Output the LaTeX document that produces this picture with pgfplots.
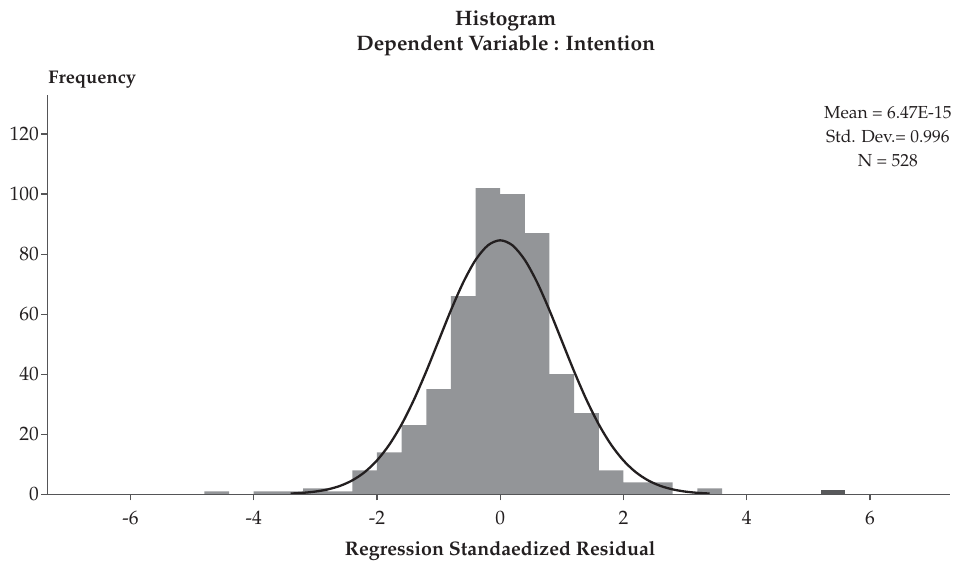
\documentclass[border=0pt]{standalone}
\usepackage[T1]{fontenc}
\usepackage{mathpazo}
\usepackage{pgfplots}
\pgfplotsset{compat=1.18}
\definecolor{barg}{RGB}{147,149,152}
\definecolor{bardk}{RGB}{88,89,91}
\definecolor{axg}{RGB}{85,85,87}
\definecolor{txt}{RGB}{35,31,32}
\newcommand{\fs}{\fontsize{17.5}{21}\selectfont}
\newcommand{\fst}{\fontsize{19.5}{23}\selectfont}
\begin{document}
\begin{tikzpicture}
\path[use as bounding box] (0,0) rectangle (959bp,562bp);
\begin{axis}[
  scale only axis, width=902.7bp, height=399.3bp,
  at={(47.3bp,67.7bp)}, anchor=south west,
  xmin=-7.35, xmax=7.3, ymin=0, ymax=133,
  axis x line*=bottom, axis y line*=left,
  axis line style={-, draw=axg, line width=1.3bp},
  xtick={-6,-4,-2,0,2,4,6}, ytick={0,20,40,60,80,100,120},
  tick align=outside, major tick length=6bp,
  tick style={draw=axg, line width=1.2bp},
  /pgf/number format/assume math mode=true,
  tick label style={font=\fst, text=txt},
  xticklabel style={yshift=-7bp},
  yticklabel style={xshift=1bp},
  clip=false, axis on top,
]
\addplot[ybar interval, fill=barg, draw=none] coordinates {
(-4.8,1) (-4.4,0) (-4.0,1) (-3.6,1) (-3.2,2) (-2.8,1) (-2.4,8) (-2.0,14)
(-1.6,23) (-1.2,35) (-0.8,66) (-0.4,102) (0.0,100) (0.4,87) (0.8,40)
(1.2,27) (1.6,8) (2.0,4) (2.4,4) (2.8,0) (3.2,2) (3.6,0)
};
\addplot[ybar interval, fill=bardk, draw=none] coordinates {
(5.2,1.3) (5.6,0)
};
\addplot[smooth, line width=2.3bp, color=txt] coordinates {
(-3.4,0.25) (-3.2,0.49) (-3.0,0.91) (-2.8,1.63) (-2.6,2.80) (-2.4,4.64)
(-2.2,7.37) (-2.0,11.27) (-1.8,16.52) (-1.6,23.28) (-1.4,31.50) (-1.2,40.94)
(-1.0,51.11) (-0.8,61.28) (-0.6,70.56) (-0.4,78.04) (-0.2,82.91) (0,84.6)
(0.2,82.91) (0.4,78.04) (0.6,70.56) (0.8,61.28) (1.0,51.11) (1.2,40.94)
(1.4,31.50) (1.6,23.28) (1.8,16.52) (2.0,11.27) (2.2,7.37) (2.4,4.64)
(2.6,2.80) (2.8,1.63) (3.0,0.91) (3.2,0.49) (3.4,0.25)
};
\node[anchor=base west, font=\fontsize{18.4}{22}\selectfont\bfseries, text=txt, xshift=1bp, yshift=11.5bp, inner sep=0pt] at (rel axis cs:0,1) {Frequency};
\node[anchor=base, font=\fontsize{21}{25}\selectfont\bfseries, text=txt, yshift=69bp, inner sep=0pt] at (axis cs:0.09,133) {Histogram};
\node[anchor=base, font=\fontsize{21}{25}\selectfont\bfseries, text=txt, yshift=44bp, inner sep=0pt] at (axis cs:0.09,133) {Dependent Variable : Intention};
\node[anchor=base, font=\fontsize{19.7}{23}\selectfont\bfseries, text=txt, yshift=-61bp, inner sep=0pt] at (axis cs:0,0) {Regression Standaedized Residual};
\node[anchor=base, font=\fs, text=txt, inner sep=0pt] at (axis cs:6.29,125.2) {Mean = 6.47E-15};
\node[anchor=base, font=\fs, text=txt, inner sep=0pt] at (axis cs:6.29,117.1) {Std. Dev.= 0.996};
\node[anchor=base, font=\fs, text=txt, inner sep=0pt] at (axis cs:6.29,109.1) {N = 528};
\end{axis}
\end{tikzpicture}
\end{document}
